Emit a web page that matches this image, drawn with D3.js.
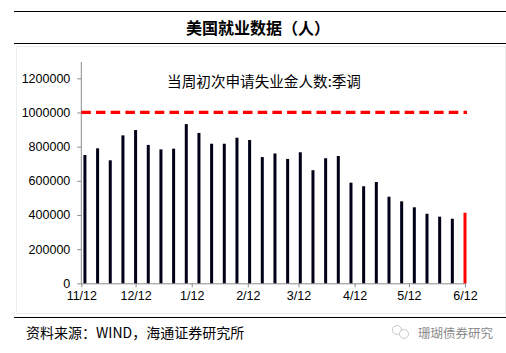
<!DOCTYPE html>
<html>
<head>
<meta charset="utf-8">
<script src="https://cdn.jsdelivr.net/npm/d3@7"></script>
<style>
  body { margin: 0; background: #fff; }
  svg { display: block; }
  .axis path, .axis line { stroke: #8c8c8c; }
  .axis text { font-family: "Liberation Sans", Arial, sans-serif; font-size: 12.5px; fill: #000; }
</style>
</head>
<body>
<div class="svg-wrapper"></div>
<script>
var title = "美国就业数据（人）";
var seriesName = "当周初次申请失业金人数:季调";
var source = "资料来源：WIND，海通证券研究所";
var logoText = "珊瑚债券研究";

var weeks = ["2020-11-03","2020-11-10","2020-11-17","2020-11-24","2020-12-01","2020-12-08",
  "2020-12-15","2020-12-22","2020-12-29","2021-01-05","2021-01-12","2021-01-19","2021-01-26",
  "2021-02-02","2021-02-09","2021-02-16","2021-02-23","2021-03-02","2021-03-09","2021-03-16",
  "2021-03-23","2021-03-30","2021-04-06","2021-04-13","2021-04-20","2021-04-27","2021-05-04",
  "2021-05-11","2021-05-18","2021-05-25","2021-06-01"];
var claims = [751000, 790000, 720000, 866000, 897000, 810000, 784000, 788000, 932000, 880000,
  817000, 817000, 852000, 839000, 739000, 760000, 728000, 767000, 662000, 732000, 745000,
  589000, 568000, 593000, 507000, 480000, 445000, 407000, 390000, 378000, 413000];
var refLevel = 1000000;
var yTicks = [0, 200000, 400000, 600000, 800000, 1000000, 1200000];
var monthTicks = ["2020-11-01","2020-12-01","2021-01-01","2021-02-01","2021-03-01",
  "2021-04-01","2021-05-01","2021-06-01"];
var monthLabels = ["11/12","12/12","1/12","2/12","3/12","4/12","5/12","6/12"];

var parse = d3.timeParse("%Y-%m-%d");
var data = weeks.map(function(w, i) { return { date: parse(w), value: claims[i] }; });
var tickDates = monthTicks.map(parse);

var W = 506, H = 353;
var svg = d3.select(".svg-wrapper").append("svg")
  .attr("width", W).attr("height", H);

// faint frame of chart area
svg.append("rect")
  .attr("x", 16.5).attr("y", 46.5).attr("width", 489).attr("height", 267)
  .attr("fill", "none").attr("stroke", "#ededed");

// title rules
svg.append("line").attr("x1", 14).attr("x2", W).attr("y1", 11.5).attr("y2", 11.5)
  .attr("stroke", "#000").attr("stroke-width", 1.2);
svg.append("line").attr("x1", 14).attr("x2", W).attr("y1", 43.5).attr("y2", 43.5)
  .attr("stroke", "#000").attr("stroke-width", 1.2);
svg.append("text")
  .attr("x", 258).attr("y", 33.5)
  .attr("text-anchor", "middle")
  .style("font-family", "'Noto Sans CJK SC', sans-serif")
  .style("font-size", "16px").style("font-weight", "bold")
  .text(title);

var xScale = d3.scaleTime()
  .domain([tickDates[0], tickDates[tickDates.length - 1]])
  .range([81.3, 465]);
var yScale = d3.scaleLinear()
  .domain([0, 1200000])
  .range([283.3, 78.3]);

var g = svg.append("g");

// y axis (line extends above top tick)
var gy = g.append("g").attr("class", "axis axis--y")
  .attr("transform", "translate(81.3,0)")
  .call(d3.axisLeft(yScale).tickValues(yTicks).tickSize(4).tickPadding(7)
    .tickFormat(d3.format("d")));
gy.select(".domain").attr("d", "M0," + yScale(0) + "V62");

var gx = g.append("g").attr("class", "axis axis--x")
  .attr("transform", "translate(0," + yScale(0) + ")")
  .call(d3.axisBottom(xScale).tickValues(tickDates).tickSize(4).tickPadding(4)
    .tickFormat(function(d, i) { return monthLabels[i]; }));
gx.select(".domain").attr("d", "M81.3,0.5H466");

// bars
g.selectAll(".bar")
  .data(data)
  .enter().append("rect")
  .attr("class", "bar")
  .attr("x", function(d) { return xScale(d.date) - 1.5; })
  .attr("width", 3)
  .attr("y", function(d) { return yScale(d.value); })
  .attr("height", function(d) { return yScale(0) - yScale(d.value); })
  .attr("fill", function(d, i) { return i === data.length - 1 ? "#ff0000" : "#000018"; });

// reference dashed line
g.append("line")
  .attr("x1", xScale(tickDates[0])).attr("x2", 467)
  .attr("y1", yScale(refLevel)).attr("y2", yScale(refLevel))
  .attr("stroke", "#ff0000").attr("stroke-width", 3.2)
  .attr("stroke-dasharray", "9.5,5.2");

svg.append("text")
  .attr("x", 264).attr("y", 86.5)
  .attr("text-anchor", "middle")
  .style("font-family", "'Noto Sans CJK SC', sans-serif")
  .style("font-size", "14.6px")
  .text(seriesName);

// footer
svg.append("line").attr("x1", 14).attr("x2", W).attr("y1", 317.5).attr("y2", 317.5)
  .attr("stroke", "#000").attr("stroke-width", 1.2);
svg.append("text")
  .attr("x", 26).attr("y", 338)
  .style("font-family", "'Noto Sans CJK SC', sans-serif")
  .style("font-size", "14px")
  .text(source);

var logo = svg.append("g").attr("transform", "translate(392,333)");
logo.append("circle").attr("cx", 5).attr("cy", -3).attr("r", 4.5)
  .attr("fill", "none").attr("stroke", "#c8c8c8").attr("stroke-width", 1);
logo.append("circle").attr("cx", 12).attr("cy", 1).attr("r", 4.5)
  .attr("fill", "#fff").attr("stroke", "#c8c8c8").attr("stroke-width", 1);
logo.append("text")
  .attr("x", 26).attr("y", 5)
  .style("font-family", "'Noto Sans CJK SC', sans-serif")
  .style("font-size", "12.5px").style("fill", "#8a8a8a")
  .text(logoText);
</script>
</body>
</html>
